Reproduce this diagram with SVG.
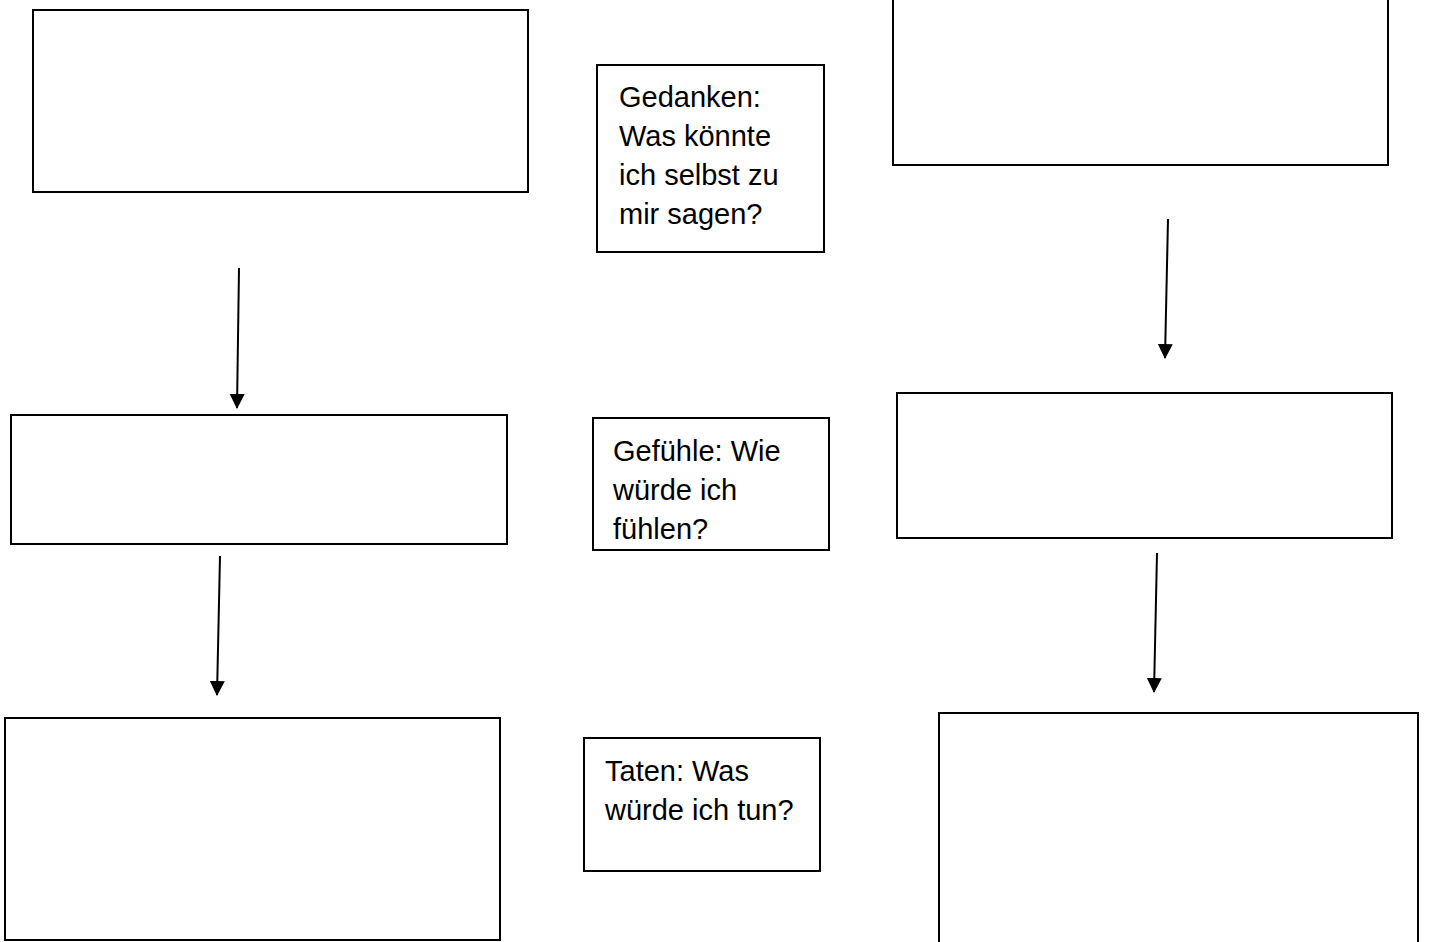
<svg xmlns="http://www.w3.org/2000/svg" width="1442" height="942" viewBox="0 0 1442 942">
<style>
.box{fill:#fff;stroke:#000;stroke-width:2}
.lbl{font-family:"Liberation Sans",Arial,sans-serif;font-size:29px;fill:#000}
.conn{stroke:#000;stroke-width:2;fill:none;marker-end:url(#ah)}
</style>
<defs>
<marker id="ah" markerUnits="userSpaceOnUse" markerWidth="16" markerHeight="16" refX="14" refY="7.5" orient="auto">
<path d="M0,0 L15,7.5 L0,15 Z" fill="#000"/>
</marker>
</defs>
<rect width="1442" height="942" fill="#fff"/>
<g id="box-top-left"><rect class="box" x="33" y="10" width="495" height="182"/></g>
<g id="box-mid-left"><rect class="box" x="11" y="415" width="496" height="129"/></g>
<g id="box-bot-left"><rect class="box" x="5" y="718" width="495" height="222"/></g>
<g id="box-top-right"><rect class="box" x="893" y="-10" width="495" height="175"/></g>
<g id="box-mid-right"><rect class="box" x="897" y="393" width="495" height="145"/></g>
<g id="box-bot-right"><rect class="box" x="939" y="713" width="479" height="240"/></g>
<g id="gedanken">
<rect class="box" x="597" y="65" width="227" height="187"/>
<text class="lbl" x="619" y="107">Gedanken:</text>
<text class="lbl" x="619" y="146">Was könnte</text>
<text class="lbl" x="619" y="185">ich selbst zu</text>
<text class="lbl" x="619" y="224">mir sagen?</text>
</g>
<g id="gefuehle">
<rect class="box" x="593" y="418" width="236" height="132"/>
<text class="lbl" x="613" y="461">Gefühle: Wie</text>
<text class="lbl" x="613" y="500">würde ich</text>
<text class="lbl" x="613" y="539">fühlen?</text>
</g>
<g id="taten">
<rect class="box" x="584" y="738" width="236" height="133"/>
<text class="lbl" x="605" y="781">Taten: Was</text>
<text class="lbl" x="605" y="820">würde ich tun?</text>
</g>
<g id="connectors">
<line class="conn" x1="239" y1="268" x2="237" y2="408"/>
<line class="conn" x1="220" y1="556" x2="217" y2="695"/>
<line class="conn" x1="1168" y1="219" x2="1165" y2="358"/>
<line class="conn" x1="1157" y1="553" x2="1154" y2="692"/>
</g>
</svg>
